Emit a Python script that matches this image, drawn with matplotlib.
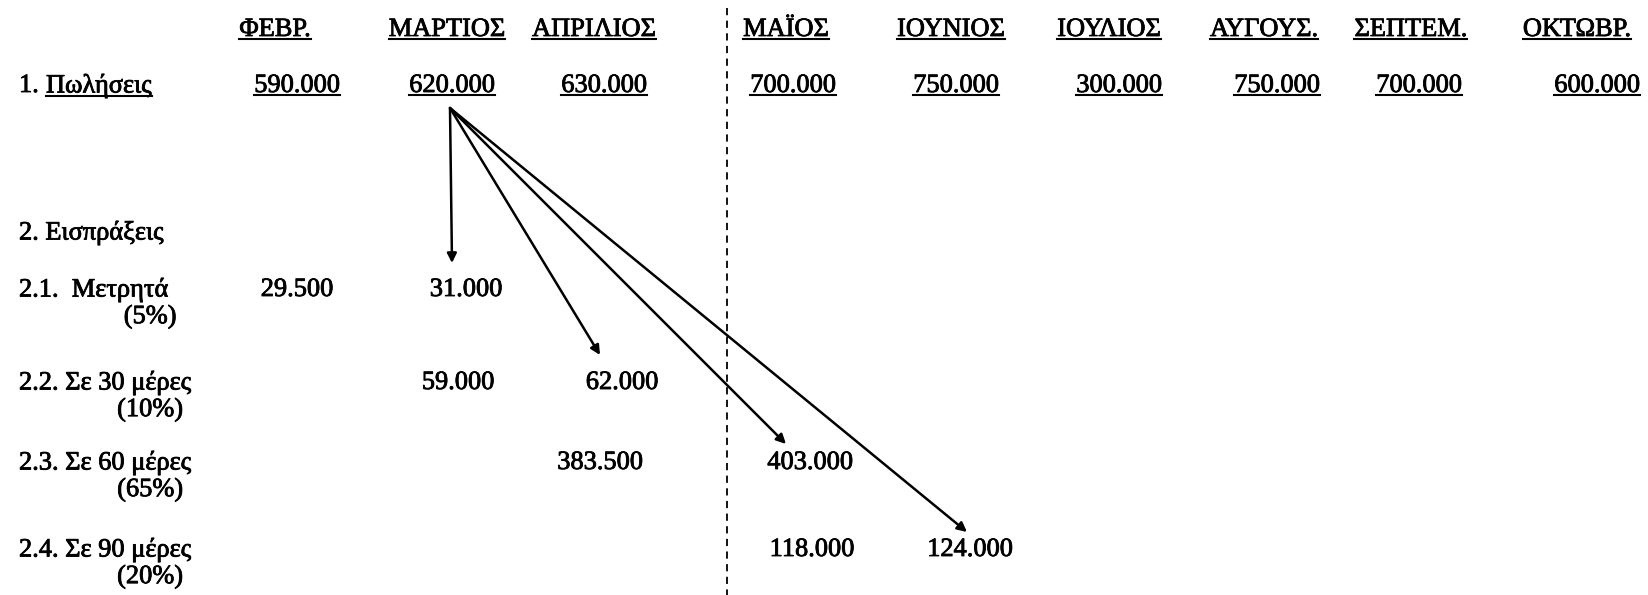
import matplotlib
matplotlib.use("Agg")
import matplotlib.pyplot as plt
import matplotlib.patheffects as pe

# dados da tabela (mês, vendas e recebimentos)
meses = ["ΦΕΒΡ.", "ΜΑΡΤΙΟΣ", "ΑΠΡΙΛΙΟΣ", "ΜΑΪΟΣ", "ΙΟΥΝΙΟΣ",
         "ΙΟΥΛΙΟΣ", "ΑΥΓΟΥΣ.", "ΣΕΠΤΕΜ.", "ΟΚΤΩΒΡ."]
poliseis = ["590.000", "620.000", "630.000", "700.000", "750.000",
            "300.000", "750.000", "700.000", "600.000"]

grammes = ["2.1.  Μετρητά", "2.2. Σε 30 μέρες", "2.3. Σε 60 μέρες", "2.4. Σε 90 μέρες"]
pososta = ["(5%)", "(10%)", "(65%)", "(20%)"]
# (linha, valor)
eisprakseis = [
    (0, "29.500"), (0, "31.000"),
    (1, "59.000"), (1, "62.000"),
    (2, "383.500"), (2, "403.000"),
    (3, "118.000"), (3, "124.000"),
]
# setas: das vendas de março para o índice do recebimento
velakia = [1, 3, 5, 7]

# layout (pixels da figura)
W, H = 1648, 595
col_head = [275, 447, 594, 786, 951, 1109, 1264, 1411, 1577]
col_val = [297, 452, 604, 793, 956, 1119, 1277, 1419, 1597]
x_eis = [297, 466, 458, 622, 600, 810, 812, 970]
y_head, y_pol = 30, 86
y_eisp = 233
y_rows = [290, 383, 463, 550]
d_pct = 27
sep_x = 727
origem = (450, 108)
pontas = [(452, 263), (600, 355), (786, 444), (967, 532)]

plt.rcParams['font.family'] = ['Liberation Serif', 'DejaVu Serif']
fig = plt.figure(figsize=(W / 100, H / 100), dpi=100)
ax = fig.add_axes([0, 0, 1, 1])
ax.set_xlim(0, W)
ax.set_ylim(H, 0)
ax.axis('off')

FS = 19
efeito = [pe.withStroke(linewidth=0.6, foreground='black')]


def escreve(x, y, s, ha='center'):
    return ax.text(x, y, s, ha=ha, va='center', fontsize=FS, color='black',
                   path_effects=efeito)


sublinhar = []
for i, m in enumerate(meses):
    sublinhar.append(escreve(col_head[i], y_head, m))
for i, v in enumerate(poliseis):
    sublinhar.append(escreve(col_val[i], y_pol, v))

escreve(19, y_pol, "1.", ha='left')
sublinhar.append(escreve(46, y_pol, "Πωλήσεις", ha='left'))

escreve(19, y_eisp, "2. Εισπράξεις", ha='left')
for k, (g, p) in enumerate(zip(grammes, pososta)):
    escreve(19, y_rows[k], g, ha='left')
    escreve(150, y_rows[k] + d_pct, p)

for j, (linha, val) in enumerate(eisprakseis):
    escreve(x_eis[j], y_rows[linha], val)

# linha tracejada separando os meses
ax.plot([sep_x, sep_x], [8, H], color='black', lw=1.3, ls=(0, (4, 3)))

# setas
for destino in pontas:
    ax.annotate("", xy=destino, xytext=origem,
                arrowprops=dict(arrowstyle='-|>', color='black', lw=1.8,
                                mutation_scale=14, shrinkA=0, shrinkB=0))

# sublinhados
fig.canvas.draw()
r = fig.canvas.get_renderer()
inv = ax.transData.inverted()
for t in sublinhar:
    bb = t.get_window_extent(renderer=r)
    (x0, y0), (x1, _) = inv.transform([(bb.x0, bb.y0), (bb.x1, bb.y1)])
    ax.plot([x0, x1], [y0 - 2, y0 - 2], color='black', lw=1.5)

fig.savefig("out.png", dpi=100, facecolor='white')
